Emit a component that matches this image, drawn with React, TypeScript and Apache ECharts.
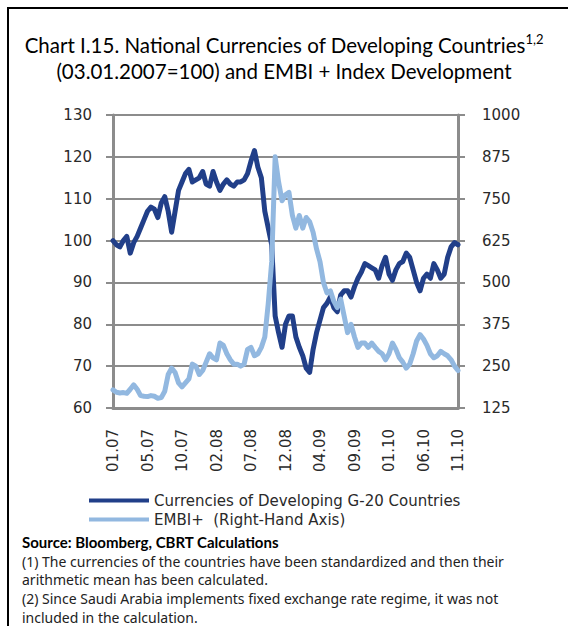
import React, { useEffect, useRef } from "react";
import * as echarts from "echarts";

// x tick labels (month.year), one every 10 sample points
const xTickLabels = ["01.07", "05.07", "10.07", "02.08", "07.08", "12.08", "04.09", "09.09", "01.10", "06.10", "11.10"];

// Currencies of Developing G-20 Countries (left axis, 03.01.2007=100)
const currencies = [
  100, 99, 98.5, 100, 101, 97, 99.5, 101, 103, 105,
  107, 108, 107.5, 105.5, 109, 110.5, 107, 102, 107, 112,
  114, 116, 117, 114, 114.5, 115, 116.5, 113.5, 113, 116.5,
  114, 112, 113.5, 114.5, 113.5, 113, 114, 114, 114.5, 116,
  119, 121.5, 117.5, 115, 107, 103, 99, 82, 78, 74.5,
  80, 82, 82, 77, 74.5, 72.5, 69.5, 68.5, 74, 78,
  81, 84, 85, 86.5, 84, 83, 87, 88, 88, 86.5,
  89, 91, 92.5, 94.5, 94, 93.5, 93, 91, 94, 96,
  92, 90.5, 93, 94.5, 95, 97, 96, 93, 90, 88,
  91, 92, 91, 94.5, 93, 91, 92, 96, 98.5, 99.5,
  99,
];

// EMBI+ (right axis)
const embi = [
  179, 172, 170, 171, 169, 181, 194, 181, 162, 160,
  159, 162, 160, 154, 156, 175, 225, 244, 231, 200,
  188, 200, 212, 256, 250, 225, 237, 262, 287, 275,
  269, 319, 312, 287, 269, 256, 256, 250, 256, 300,
  306, 281, 287, 306, 337, 437, 562, 875, 800, 744,
  762, 769, 700, 662, 700, 662, 694, 681, 650, 600,
  562, 500, 469, 475, 444, 425, 450, 400, 350, 375,
  337, 306, 319, 319, 306, 319, 306, 294, 287, 269,
  287, 319, 300, 275, 262, 244, 256, 287, 325, 344,
  331, 312, 287, 275, 281, 294, 287, 281, 269, 250,
  237,
];

const seriesNames = ["Currencies of Developing G-20 Countries", "EMBI+  (Right-Hand Axis)"];
const footnotes = [
  "(1) The currencies of the countries have been standardized and then their",
  "arithmetic mean has been calculated.",
  "(2) Since Saudi Arabia implements fixed exchange rate regime, it was not",
  "included in the calculation.",
];

const DARK = "#213f89";
const LIGHT = "#92b8e0";
const GRID = "#8c8c8c";

export default function App() {
  const ref = useRef<HTMLDivElement>(null);
  useEffect(() => {
    document.body.style.margin = "0";
    const chart = echarts.init(ref.current!, undefined, { renderer: "svg" });
    const axisLabelStyle = { fontFamily: "DejaVu Sans", fontSize: 15, color: "#2a2a2a" };
    chart.setOption({
      animation: false,
      backgroundColor: "#ffffff",
      title: {
        text: "Chart I.15. National Currencies of Developing Countries{s|1,2}\n(03.01.2007=100) and EMBI + Index Development",
        left: "center",
        top: 27,
        textStyle: {
          fontFamily: "Lato",
          fontSize: 20.5,
          fontWeight: "normal",
          color: "#000",
          lineHeight: 26,
          rich: {
            s: { fontFamily: "Lato", fontSize: 13, verticalAlign: "top", lineHeight: 26, color: "#000" },
          },
        },
      },
      grid: { left: 113, right: 110, top: 115, bottom: 218 },
      legend: {
        orient: "vertical",
        left: 84,
        top: 488,
        itemWidth: 60,
        itemHeight: 4,
        itemGap: 4,
        icon: "rect",
        textStyle: { fontFamily: "DejaVu Sans", fontSize: 15, color: "#2a2a2a" },
        data: seriesNames,
      },
      xAxis: {
        type: "value",
        min: 0,
        max: xTickLabels.length * 10 - 10,
        interval: 10,
        axisLine: { show: true, onZero: false, lineStyle: { color: GRID, width: 3 } },
        axisTick: { show: false },
        splitLine: { show: false },
        axisLabel: {
          ...axisLabelStyle,
          rotate: 90,
          margin: 21,
          formatter: (v: number) => xTickLabels[Math.round(v / 10)] ?? "",
        },
      },
      yAxis: [
        {
          type: "value",
          min: 60,
          max: 130,
          interval: 10,
          position: "left",
          axisLine: { show: true, lineStyle: { color: GRID, width: 3 } },
          axisTick: { show: true, inside: false, length: 7, lineStyle: { color: GRID, width: 2 } },
          splitLine: { show: true, lineStyle: { color: GRID, width: 2 } },
          axisLabel: { ...axisLabelStyle, margin: 21 },
        },
        {
          type: "value",
          min: 125,
          max: 1000,
          interval: 125,
          position: "right",
          axisLine: { show: true, lineStyle: { color: GRID, width: 3 } },
          axisTick: { show: true, inside: false, length: 7, lineStyle: { color: GRID, width: 2 } },
          splitLine: { show: false },
          axisLabel: { ...axisLabelStyle, margin: 24, formatter: (v: number) => String(v) },
        },
      ],
      series: [
        {
          name: seriesNames[0],
          type: "line",
          yAxisIndex: 0,
          symbol: "none",
          color: DARK,
          lineStyle: { color: DARK, width: 5, join: "round", cap: "round" },
          data: currencies.map((v, i) => [i, v]),
        },
        {
          name: seriesNames[1],
          type: "line",
          yAxisIndex: 1,
          symbol: "none",
          color: LIGHT,
          lineStyle: { color: LIGHT, width: 5, join: "round", cap: "round" },
          data: embi.map((v, i) => [i, v]),
        },
      ],
      graphic: [
        {
          type: "polyline",
          shape: { points: [[8, 626], [8, 8], [568, 8]] },
          style: { stroke: "#000", lineWidth: 2, fill: "none" },
          silent: true,
        },
        {
          type: "text",
          x: 22,
          y: 542,
          style: {
            text: "Source: Bloomberg, CBRT Calculations",
            font: "bold 15px Lato",
            fill: "#000",
            textVerticalAlign: "middle",
          },
        },
        ...footnotes.map((t, i) => ({
          type: "text",
          x: 22,
          y: 561 + i * 18.7,
          style: { text: t, font: "14px 'Noto Sans'", fill: "#222", textVerticalAlign: "middle" },
        })),
      ],
    });
    return () => chart.dispose();
  }, []);
  return <div ref={ref} style={{ width: 568, height: 626 }} />;
}
